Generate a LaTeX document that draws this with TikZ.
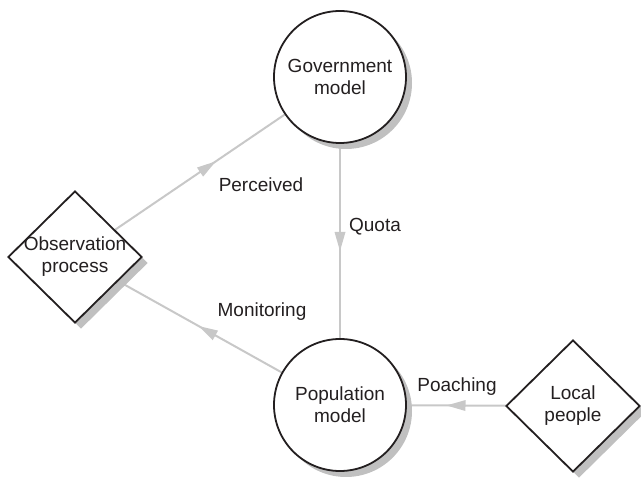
\documentclass[tikz,border=0pt]{standalone}
\usepackage{fontspec}
\setmainfont{Liberation Sans}
\usetikzlibrary{shapes.geometric,shadows,decorations.markings,backgrounds}
\definecolor{edgecol}{RGB}{200,200,200}
\definecolor{shadcol}{RGB}{192,192,192}
\definecolor{txtcol}{RGB}{35,31,32}
\tikzset{
  base/.style={draw=txtcol, line width=1.8pt, fill=white, inner sep=0pt,
    text=txtcol, font=\fontsize{19}{22}\selectfont, align=center,
    drop shadow={shadow xshift=6pt, shadow yshift=-6pt, fill=shadcol, opacity=1}},
  model/.style={base, circle, minimum size=132pt},
  actor/.style={base, diamond, minimum width=134pt, minimum height=132pt},
  lbl/.style={text=txtcol, font=\fontsize{19}{22}\selectfont, inner sep=0pt},
  edge/.style={draw=edgecol, line width=2pt,
    postaction={decorate, decoration={markings, mark=at position 0.5 with {
      \fill[edgecol] (10pt,0pt) -- (-9pt,5.5pt) -- (-9pt,-5.5pt) -- cycle;}}}}
}
\begin{document}
\begin{tikzpicture}[x=1pt,y=-1pt]
\useasboundingbox (0,0) rectangle (641,481);
\node[model] (gov) at (340,77) {Government\\model};
\node[model] (pop) at (340,405) {Population\\model};
\node[actor, label={[lbl, align=center]center:Observation\\process}] (obs) at (75,257) {};
\node[actor, label={[lbl, align=center]center:Local\\people}] (loc) at (573,406) {};
\node[lbl] (lper) at (261,185) {Perceived};
\node[lbl] (lquo) at (375,227) {Quota};
\node[lbl] (lmon) at (262,312) {Monitoring};
\node[lbl] (lpoa) at (457,387) {Poaching};
\begin{scope}[on background layer]
\draw[edge] (obs.center) -- (gov.center);
\draw[edge] (gov.center) -- (pop.center);
\draw[edge] (pop.center) -- (obs.center);
\draw[edge] (loc.center) -- (pop.center);
\end{scope}
\end{tikzpicture}
\end{document}
